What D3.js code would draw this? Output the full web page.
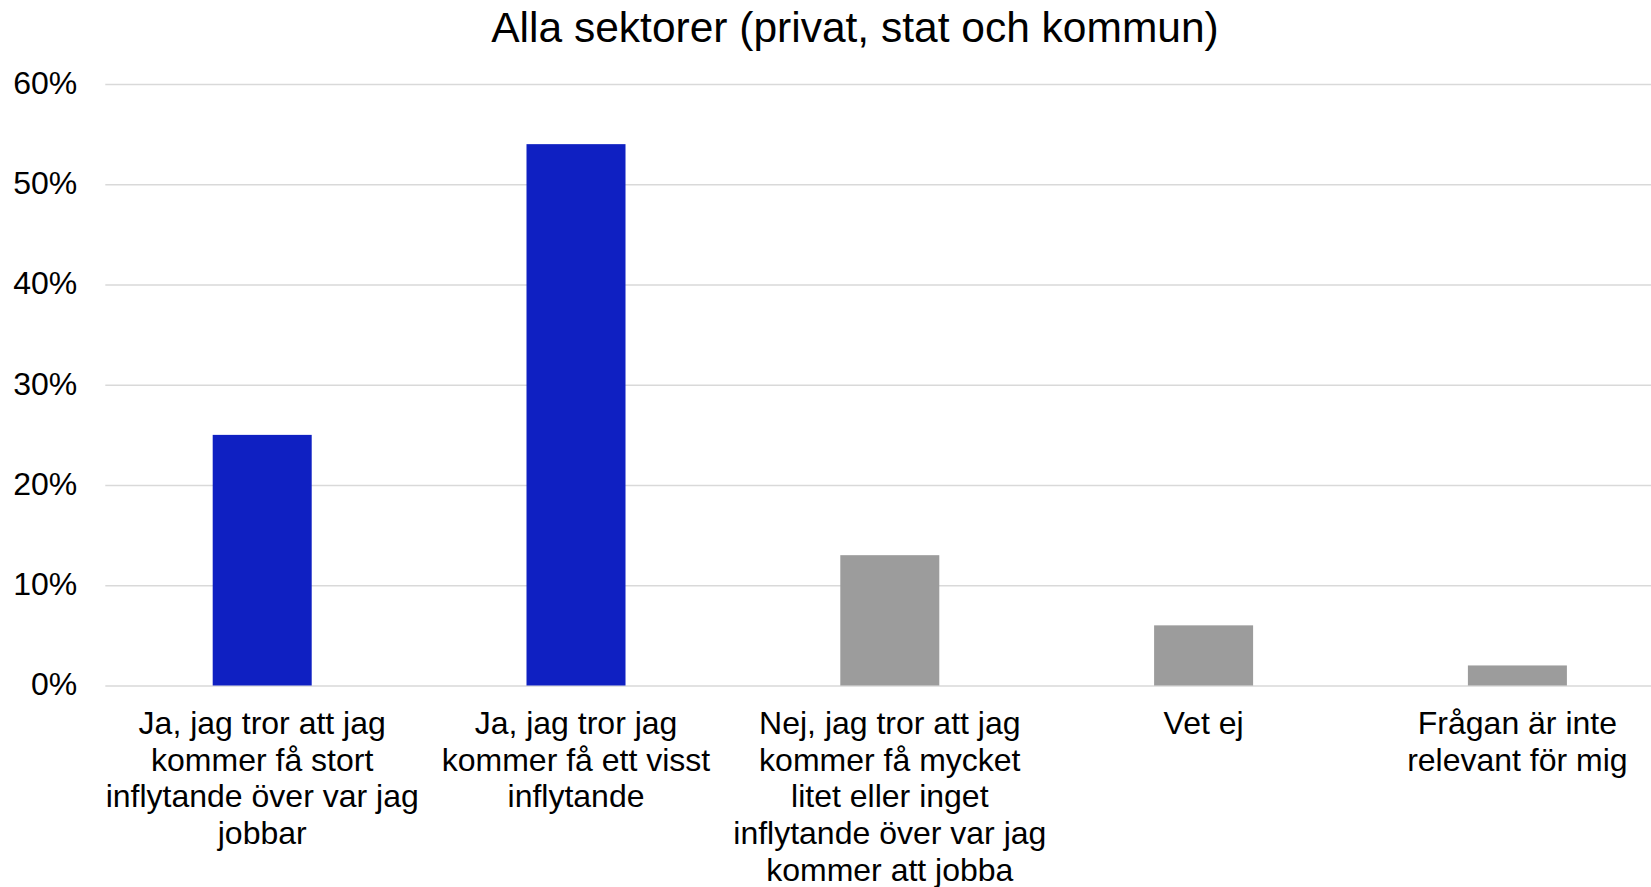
<!DOCTYPE html>
<html>
<head>
<meta charset="utf-8">
<script src="https://cdn.jsdelivr.net/npm/d3@7"></script>
<style>
  body { margin: 0; background: #fff; }
  svg { display: block; font-family: Arial, "Liberation Sans", sans-serif; }
</style>
</head>
<body>
<div class="viz"></div>
<script>
const title = "Alla sektorer (privat, stat och kommun)";
const categories = ["stort", "visst", "litet", "vetej", "ejrelevant"];
const categoryLines = [
  ["Ja, jag tror att jag", "kommer få stort", "inflytande över var jag", "jobbar"],
  ["Ja, jag tror jag", "kommer få ett visst", "inflytande"],
  ["Nej, jag tror att jag", "kommer få mycket", "litet eller inget", "inflytande över var jag", "kommer att jobba"],
  ["Vet ej"],
  ["Frågan är inte", "relevant för mig"]
];
const values = [0.25, 0.54, 0.13, 0.06, 0.02];
const barColors = ["#0f20c2", "#0f20c2", "#9c9c9c", "#9c9c9c", "#9c9c9c"];
const yTicks = [0, 0.1, 0.2, 0.3, 0.4, 0.5, 0.6];

const width = 1651, height = 887;

const svg = d3.select(".viz").append("svg")
  .attr("width", width)
  .attr("height", height);

const x = d3.scaleBand()
  .domain(categories)
  .range([105.3, 1674.3])
  .paddingInner(0.6845)
  .paddingOuter(0.34225);

const y = d3.scaleLinear()
  .domain([0, 0.6])
  .range([685.5, 84]);

// title
svg.append("text")
  .attr("x", 855)
  .attr("y", 42)
  .attr("text-anchor", "middle")
  .attr("font-size", "42.5px")
  .attr("fill", "#000")
  .text(title);

// gridlines + y labels
const yAxis = d3.axisLeft(y)
  .tickValues(yTicks)
  .tickFormat(d3.format(".0%"))
  .tickSize(-(width - 105.3))
  .tickPadding(28);

const gy = svg.append("g")
  .attr("transform", "translate(105.3,0)")
  .call(yAxis);
gy.select(".domain").remove();
gy.selectAll(".tick line")
  .attr("stroke", "#d9d9d9")
  .attr("stroke-width", 1.6);
gy.selectAll(".tick text")
  .attr("font-size", "32px")
  .attr("fill", "#000")
  .attr("font-family", "Arial, 'Liberation Sans', sans-serif")
  .attr("dy", "0.29em");

// bars
svg.append("g").selectAll("rect")
  .data(values)
  .join("rect")
  .attr("x", (d, i) => x(categories[i]))
  .attr("width", x.bandwidth())
  .attr("y", d => y(d))
  .attr("height", d => y(0) - y(d))
  .attr("fill", (d, i) => barColors[i]);

// x labels
const xAxis = d3.axisBottom(x)
  .tickSize(0)
  .tickFormat("");

const gx = svg.append("g")
  .attr("transform", `translate(0,${y(0)})`)
  .call(xAxis);
gx.select(".domain").remove();

gx.selectAll(".tick").each(function (d, i) {
  const t = d3.select(this).append("text")
    .attr("text-anchor", "middle")
    .attr("font-size", "32px")
    .attr("fill", "#000")
    .attr("font-family", "Arial, 'Liberation Sans', sans-serif");
  categoryLines[i].forEach((line, j) => {
    t.append("tspan")
      .attr("x", 0)
      .attr("y", 48.5 + j * 36.7)
      .text(line);
  });
});
</script>
</body>
</html>
